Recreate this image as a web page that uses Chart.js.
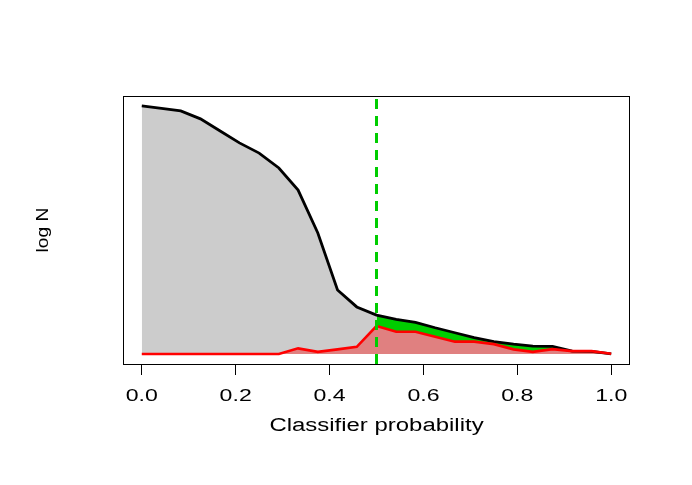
<!DOCTYPE html>
<html>
<head>
<meta charset="utf-8">
<script src="https://cdn.jsdelivr.net/npm/chart.js@4/dist/chart.umd.min.js"></script>
<style>
  html, body { margin: 0; padding: 0; background: #fff; }
  #wrap { width: 692px; height: 485px; }
</style>
</head>
<body>
<div id="wrap"><canvas id="chart" width="692" height="485"></canvas></div>
<script>
// classifier probability bins
const probs = [0, 0.042, 0.083, 0.125, 0.167, 0.208, 0.25, 0.292, 0.333, 0.375, 0.417, 0.458,
  0.5, 0.542, 0.583, 0.625, 0.667, 0.708, 0.75, 0.792, 0.833, 0.875, 0.917, 0.958, 1.0]
// log N, all objects (black) and selected ones (red)
const logAll = [10.0, 9.9, 9.8, 9.48, 8.99, 8.51, 8.1, 7.5, 6.61, 4.88, 2.58, 1.9,
  1.57, 1.4, 1.28, 1.06, 0.86, 0.66, 0.5, 0.4, 0.32, 0.31, 0.12, 0.11, 0.01]
const logSel = [0, 0, 0, 0, 0, 0, 0, 0, 0.23, 0.09, 0.19, 0.29,
  1.13, 0.9, 0.9, 0.7, 0.5, 0.5, 0.4, 0.19, 0.09, 0.2, 0.12, 0.12, 0.01]
const xTicks = [0, 0.2, 0.4, 0.6, 0.8, 1.0]
const cut = 0.5
const yMin = -0.4, yMax = 10.4

const pts = (ys, from, to) => probs.slice(from, to).map((x, i) => ({x: x, y: ys[from + i]}))
const iCut = probs.indexOf(cut)

const textPlugin = {
  id: 'rtext',
  afterDraw(chart) {
    const ctx = chart.ctx
    const a = chart.chartArea
    const xs = chart.scales.x
    ctx.save()
    ctx.strokeStyle = '#000'
    ctx.lineWidth = 1
    ctx.strokeRect(a.left + 0.5, a.top + 0.5, a.right - a.left - 1, a.bottom - a.top)
    ctx.fillStyle = '#000'
    ctx.textAlign = 'center'
    ctx.textBaseline = 'alphabetic'
    const wide = (txt, x, y, font, sx, rot) => {
      ctx.save()
      ctx.translate(x, y)
      ctx.rotate(rot || 0)
      ctx.scale(sx, 1)
      ctx.font = font
      ctx.fillText(txt, 0, 0)
      ctx.restore()
    }
    xTicks.forEach(v => wide(v.toFixed(1), xs.getPixelForValue(v), 401, '16.5px "Liberation Sans"', 1.4))
    wide('Classifier probability', (a.left + a.right) / 2, 431, '18px "Liberation Sans"', 1.33)
    wide('log N', 48, (a.top + a.bottom) / 2, '17px "Liberation Sans"', 1.13, -Math.PI / 2)
    ctx.restore()
  }
}

new Chart(document.getElementById('chart'), {
  type: 'line',
  data: {
    datasets: [
      {data: pts(logAll, 0, iCut + 1), fill: 'origin', backgroundColor: '#cccccc', borderWidth: 0, pointRadius: 0, order: 6},
      {data: pts(logAll, iCut, probs.length), fill: 'origin', backgroundColor: 'rgb(0,205,0)', borderWidth: 0, pointRadius: 0, order: 5},
      {data: pts(logSel, 0, probs.length), fill: 'origin', backgroundColor: 'rgb(224,128,128)', borderWidth: 0, pointRadius: 0, order: 4},
      {data: pts(logAll, 0, probs.length), fill: false, borderColor: '#000', borderWidth: 2.8, pointRadius: 0, order: 3},
      {data: pts(logSel, 0, probs.length), fill: false, borderColor: '#ff0000', borderWidth: 2.6, pointRadius: 0, order: 2},
      {data: [{x: cut, y: yMin}, {x: cut, y: yMax}], fill: false, borderColor: 'rgb(0,205,0)', borderWidth: 3,
        borderDash: [10, 7], pointRadius: 0, order: 1}
    ]
  },
  options: {
    responsive: false,
    animation: false,
    layout: {padding: {left: 123, right: 62, top: 96, bottom: 0}},
    plugins: {legend: {display: false}, tooltip: {enabled: false}},
    scales: {
      x: {
        type: 'linear', min: -0.04, max: 1.04,
        afterBuildTicks: s => { s.ticks = xTicks.map(v => ({value: v})) },
        afterFit: s => { s.height = 121 },
        ticks: {display: false},
        border: {display: false},
        grid: {drawOnChartArea: false, drawTicks: true, tickLength: 11, color: '#000', lineWidth: 1}
      },
      y: {type: 'linear', min: yMin, max: yMax, display: false}
    }
  },
  plugins: [textPlugin]
})
</script>
</body>
</html>
